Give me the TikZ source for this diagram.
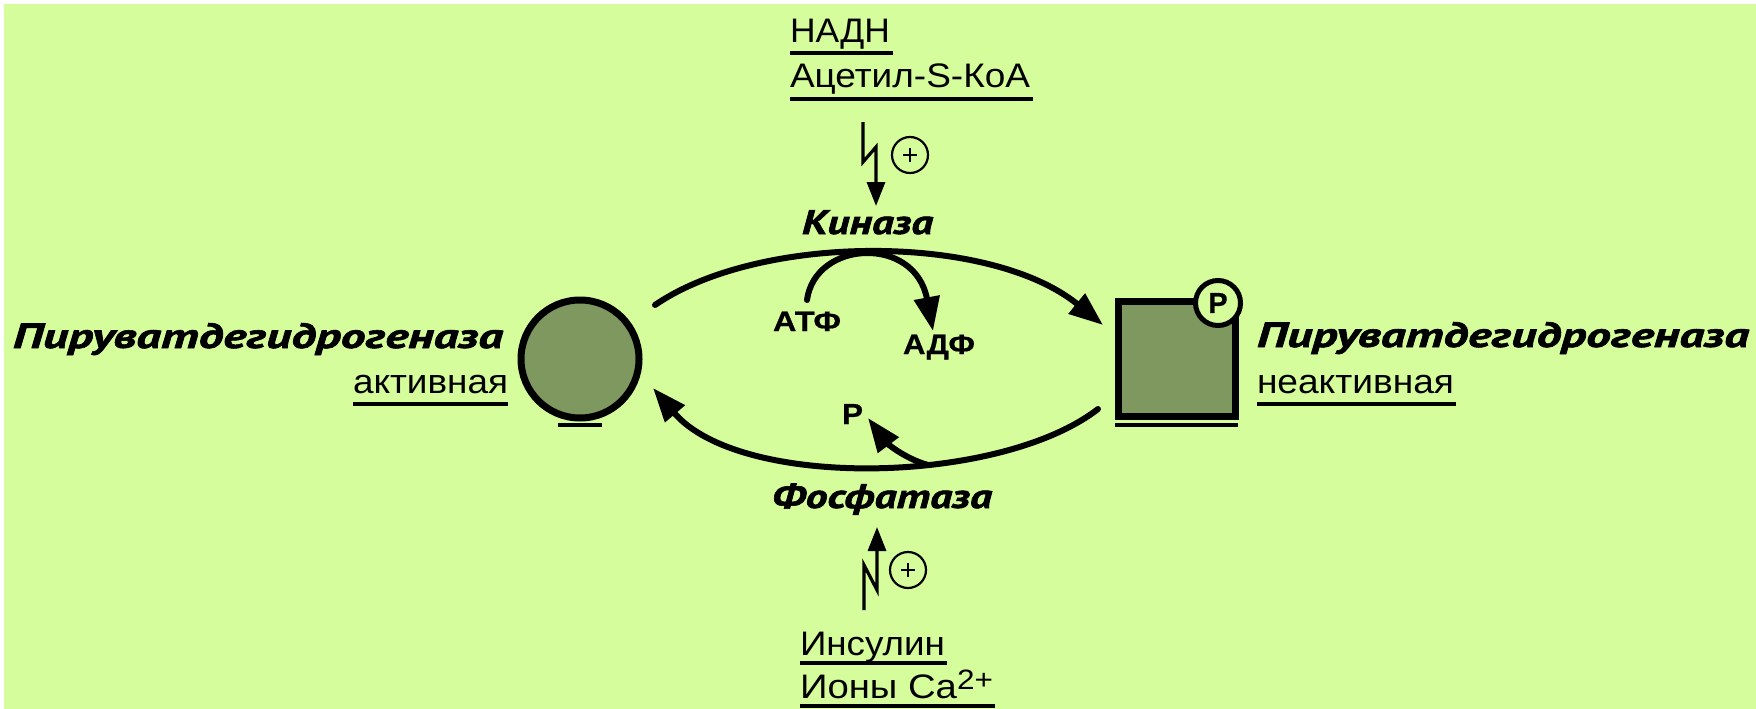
\documentclass[tikz,border=0pt]{standalone}
\usepackage{fontspec}
\usepackage{graphicx}
\setmainfont{Liberation Sans}[BoldFeatures={FakeBold=0.6}]
\newfontfamily\bifont{PT Sans}[BoldItalicFeatures={FakeBold=1.6}]
\usetikzlibrary{arrows.meta}
\definecolor{bgreen}{RGB}{213,253,155}
\definecolor{enzfill}{RGB}{126,152,96}
\newcommand{\fitw}[2]{\resizebox{#1pt}{\height}{#2}}
\begin{document}
\begin{tikzpicture}[x=1pt,y=-1pt,
  txt/.style={anchor=base west, inner sep=0pt, outer sep=0pt},
  reg/.style={txt, font=\fontsize{34}{36}\selectfont},
  bld/.style={txt, font=\bfseries\fontsize{28}{30}\selectfont},
  bit/.style={txt, font=\bifont\bfseries\itshape\fontsize{35}{38}\selectfont},
  ul/.style={line width=3.5pt},
  main/.style={line width=6pt, line cap=round},
  bigtip/.style={-{Triangle[length=34pt,width=25pt]}},
  bolt/.style={line width=3.2pt, -{Triangle[length=24pt,width=18pt]}},
  plusc/.style={circle, draw, line width=2.2pt, minimum size=36pt, inner sep=0pt}]
\useasboundingbox (0,0) rectangle (1756,709);
\fill[white] (0,0) rectangle (1756,709);
\fill[bgreen] (4,4) rectangle (1756,709);

% --- top regulators
\node[reg] (nadh) at (790,43) {\fitw{100}{НАДН}};
\draw[ul] (790,53) -- (893,53);
\node[reg] (acoa) at (790,88) {\fitw{240}{Ацетил-S-КоА}};
\draw[ul] (790,99) -- (1033,99);

\coordinate (b1s) at (863,122);
\coordinate (b1e) at (876,206);
\draw[bolt] (b1s) -- ++(0,40) -- ++(13,-15) -- (b1e);
\node[plusc] (plus1) at (910,155) {};
\draw[line width=2.2pt] ([xshift=-7pt]plus1.center) -- ([xshift=7pt]plus1.center)
  ([yshift=-7pt]plus1.center) -- ([yshift=7pt]plus1.center);

\node[bit, font=\bifont\bfseries\itshape\fontsize{34}{36}\selectfont] (kin) at (802,234) {\fitw{131}{Киназа}};

% --- enzymes
\node[circle, draw, line width=7pt, fill=enzfill, minimum size=118pt, inner sep=0pt] (act) at (580,359) {};
\draw[line width=4pt] (558,425) -- (602,425);
\node[draw, line width=7pt, fill=enzfill, minimum width=117pt, minimum height=115pt, inner sep=0pt] (inact) at (1176.5,358.5) {};
\draw[line width=3.5pt] (1115,425) -- (1238,425);
\node[circle, draw, line width=5pt, fill=bgreen, minimum size=45pt, inner sep=0pt,
      font=\bfseries\fontsize{29}{29}\selectfont] (pc) at (1218,303) {P};

% --- labels
\node[bit] (lname) at (13,348) {\fitw{490}{Пируватдегидрогеназа}};
\node[reg] (lstate) at (353,393) {\fitw{155}{активная}};
\draw[ul] (353,404) -- (508,404);
\node[bit] (rname) at (1257,347) {\fitw{492}{Пируватдегидрогеназа}};
\node[reg] (rstate) at (1257,393) {\fitw{197}{неактивная}};
\draw[ul] (1257,404) -- (1456,404);

% --- kinase reaction
\coordinate (k1) at (655,305);
\coordinate (k2) at (1103,325);
\draw[main, bigtip] (k1) .. controls (760,233) and (990,233) .. (k2);
\node[bld] (atp) at (773,331) {\fitw{68}{АТФ}};
\node[bld] (adp) at (903,354) {\fitw{72}{АДФ}};
\coordinate (s1) at (807,300);
\coordinate (s2) at (933,331);
\draw[main, bigtip] (s1) .. controls (815,240) and (915,235) .. (s2);

% --- phosphatase reaction
\coordinate (f1) at (1098,409);
\coordinate (f2) at (653,388);
\draw[main, bigtip] (f1) .. controls (1000,485) and (740,490) .. (f2);
\node[bld, font=\bfseries\fontsize{29}{30}\selectfont] (pi) at (842,424) {\fitw{21}{P}};
\coordinate (p1) at (928,465);
\coordinate (p2) at (868,418);
\draw[main, bigtip] (p1) .. controls (903,458) and (886,442) .. (p2);

\node[bit, font=\bifont\bfseries\itshape\fontsize{34}{36}\selectfont] (phos) at (772,508) {\fitw{220}{Фосфатаза}};

% --- bottom regulators
\coordinate (b2s) at (864,610);
\coordinate (b2e) at (877,527);
\draw[bolt] (b2s) -- ++(0,-45) -- ++(13,25) -- (b2e);
\node[plusc] (plus2) at (908,570) {};
\draw[line width=2.2pt] ([xshift=-7pt]plus2.center) -- ([xshift=7pt]plus2.center)
  ([yshift=-7pt]plus2.center) -- ([yshift=7pt]plus2.center);

\node[reg] (ins) at (800,655) {\fitw{145}{Инсулин}};
\draw[ul] (800,663) -- (947,663);
\node[reg] (ca) at (800,698) {\fitw{193}{Ионы Ca\raisebox{9pt}{\fontsize{28}{28}\selectfont 2+}}};
\draw[ul] (800,706) -- (995,706);
\end{tikzpicture}
\end{document}
